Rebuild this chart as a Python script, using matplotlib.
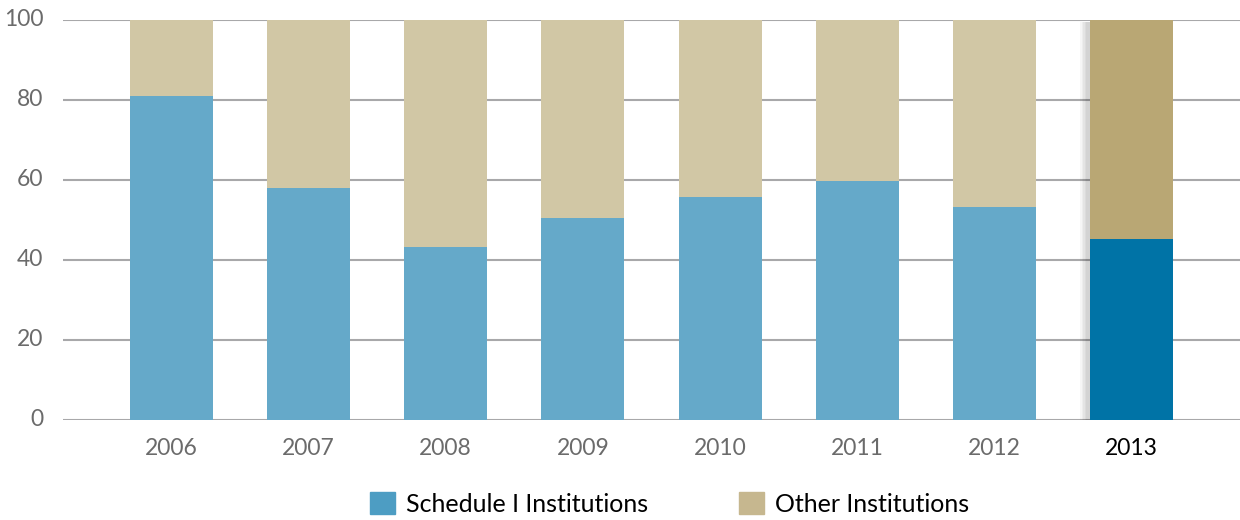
import matplotlib.pyplot as plt
from matplotlib.patches import Patch

plt.rcParams['font.family'] = ['Lato', 'DejaVu Sans']

years = ['2006', '2007', '2008', '2009', '2010', '2011', '2012', '2013']
schedule1 = [81.0, 58.0, 43.3, 50.6, 55.8, 59.8, 53.3, 45.3]
other = [100 - v for v in schedule1]

blue = ['#65a9c9'] * 7 + ['#0073a6']
tan = ['#d1c7a5'] * 7 + ['#b9a774']

fig = plt.figure(figsize=(12.4, 5.2), dpi=100)
ax = fig.add_axes([63 / 1240, 100 / 520, 1 - 63 / 1240, 400 / 520])

x = list(range(len(years)))
w = 0.605

# soft shadow behind the highlighted 2013 bar (a bit to the left and below)
for i in range(5):
    ax.bar(x[-1] - 0.02 - 0.004 * i, 100 + 0.5 * (i + 1), width=w + 0.015 * (i + 1),
           bottom=-0.5 * (i + 1) - 0.6, color='black', alpha=0.035, zorder=2, linewidth=0)

ax.bar(x, schedule1, width=w, color=blue, zorder=3, linewidth=0)
ax.bar(x, other, width=w, bottom=schedule1, color=tan, zorder=3, linewidth=0)

ax.set_xlim(-0.79, 7.79)
ax.set_ylim(0, 100)
ax.set_yticks([0, 20, 40, 60, 80, 100])
ax.set_xticks(x)
ax.set_xticklabels(years)
ax.grid(axis='y', color='#a8a8aa', linewidth=1.5, zorder=1)
for s in ax.spines.values():
    s.set_visible(False)
ax.tick_params(length=0, labelsize=16.5, labelcolor='#6b6b6b')
ax.tick_params(axis='y', pad=14)
ax.tick_params(axis='x', pad=13)
ax.get_xticklabels()[-1].set_color('black')
for t in ax.get_yticklabels():
    t.set_verticalalignment('center')

handles = [Patch(color='#4d9dc3', label='Schedule I Institutions'),
           Patch(color='#c6b78f', label='Other Institutions')]
fig.legend(handles=handles, loc='lower center', bbox_to_anchor=(0.54, -0.035),
           ncol=2, frameon=False, fontsize=18, handlelength=1.0, handleheight=1.0,
           columnspacing=3.6, handletextpad=0.45)

fig.savefig('out.png', dpi=100)
